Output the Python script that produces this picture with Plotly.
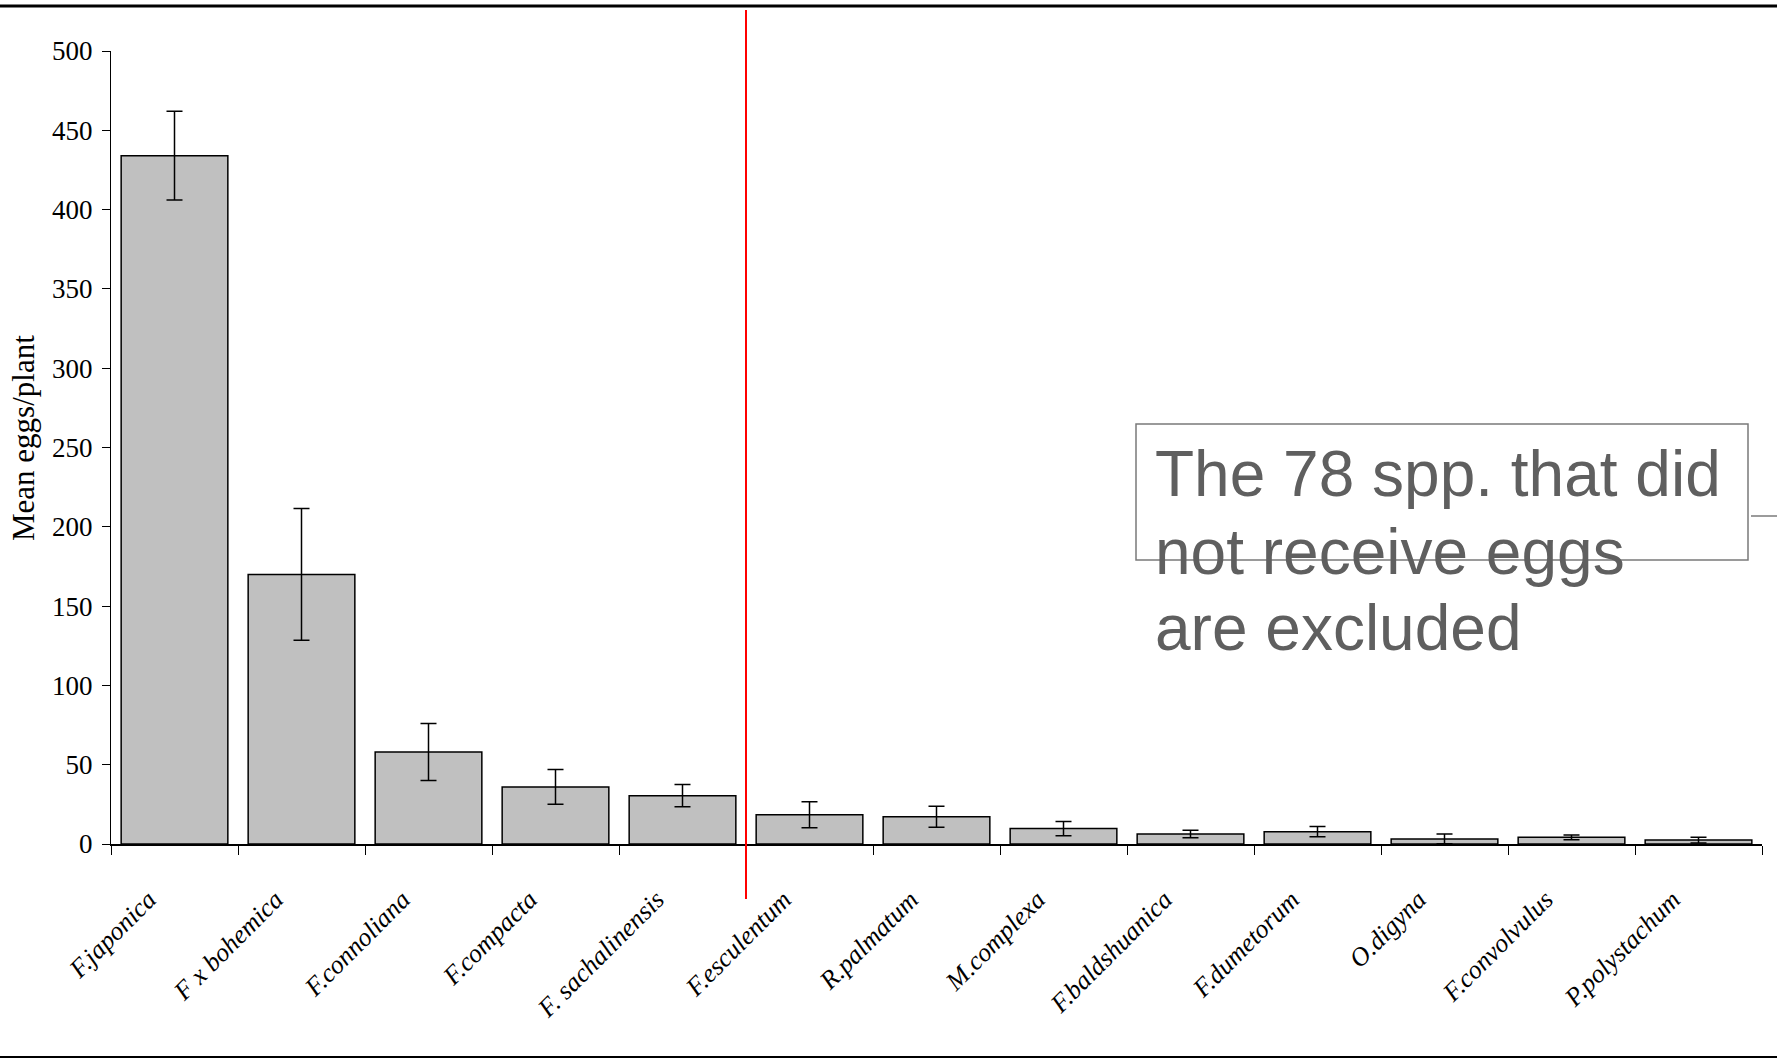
import plotly.graph_objects as go

# Mean number of eggs laid per plant, by host species (± error)
species = [
    "F.japonica", "F x bohemica", "F.connoliana", "F.compacta",
    "F. sachalinensis", "F.esculentum", "R.palmatum", "M.complexa",
    "F.baldshuanica", "F.dumetorum", "O.digyna", "F.convolvulus",
    "P.polystachum",
]
mean_eggs = [434, 170, 58, 36, 30.5, 18.5, 17.2, 9.7, 6.3, 7.8, 3.2, 4.2, 2.5]
err_eggs = [28, 41.5, 18, 11, 7, 8.2, 6.6, 4.5, 2.3, 3.3, 3.1, 1.5, 1.8]

y_ticks = [0, 50, 100, 150, 200, 250, 300, 350, 400, 450, 500]
note_lines = ["The 78 spp. that did", "not receive eggs", "are excluded"]
y_title = "Mean eggs/plant"

W, H = 1777, 1060
L, R, T, B = 111, 15, 51, 216
pw, ph = W - L - R, H - T - B


def px_x(x):
    return (x - L) / pw


def px_y(y):
    return (H - B - y) / ph


fig = go.Figure(
    go.Bar(
        x=species,
        y=mean_eggs,
        marker=dict(color="#c0c0c0", line=dict(color="black", width=1.5)),
        error_y=dict(type="data", array=err_eggs, visible=True,
                     color="black", thickness=1.5, width=8),
        width=0.84,
    )
)

serif = "Liberation Serif, Times New Roman, serif"

fig.update_layout(
    width=W, height=H,
    margin=dict(l=L, r=R, t=T, b=B, autoexpand=False),
    paper_bgcolor="white", plot_bgcolor="white",
    showlegend=False,
    xaxis=dict(
        type="category", range=[-0.5, len(species) - 0.5],
        showline=True, linecolor="black", linewidth=2,
        ticks="outside", tickson="boundaries", ticklen=9,
        tickcolor="black", tickwidth=1,
        tickangle=-45, showgrid=False,
        tickfont=dict(family=serif, size=26, color="black", style="italic"),
        ticklabelstandoff=28, ticklabelshift=-26,
    ),
    yaxis=dict(
        range=[0, 500], tickvals=y_ticks,
        showline=True, linecolor="black", linewidth=1,
        ticks="outside", ticklen=8, tickcolor="black", tickwidth=1,
        showgrid=False, zeroline=False,
        tickfont=dict(family=serif, size=27, color="black"),
        ticklabelstandoff=4,
    ),
)

# y-axis title
fig.add_annotation(
    text=y_title, xref="paper", yref="paper",
    x=px_x(23), y=px_y(438), textangle=-90, showarrow=False,
    xanchor="center", yanchor="middle",
    font=dict(family=serif, size=31, color="black"),
)

# frame lines at top and bottom of the page
fig.add_shape(type="line", xref="paper", yref="paper",
              x0=px_x(0), x1=px_x(W), y0=px_y(6), y1=px_y(6),
              line=dict(color="black", width=3))
fig.add_shape(type="line", xref="paper", yref="paper",
              x0=px_x(0), x1=px_x(W), y0=px_y(1057), y1=px_y(1057),
              line=dict(color="black", width=2))

# red divider between the first five hosts and the rest
fig.add_shape(type="line", xref="x", yref="paper",
              x0=4.5, x1=4.5, y0=px_y(899), y1=px_y(10),
              line=dict(color="red", width=2))

# note box with connector tick
fig.add_shape(type="rect", xref="paper", yref="paper",
              x0=px_x(1136), x1=px_x(1748), y0=px_y(560), y1=px_y(424),
              line=dict(color="#7a7a7a", width=1.5))
fig.add_shape(type="line", xref="paper", yref="paper",
              x0=px_x(1751), x1=px_x(W), y0=px_y(516), y1=px_y(516),
              line=dict(color="#7a7a7a", width=1.5))

for line_text, yc in zip(note_lines, [474, 552, 628]):
    fig.add_annotation(
        text=line_text, xref="paper", yref="paper",
        x=px_x(1153), y=px_y(yc), showarrow=False,
        xanchor="left", yanchor="middle",
        font=dict(family="Liberation Sans, Arial, sans-serif", size=64,
                  color="#5f5f5f"),
    )

fig.write_html("out.html")
